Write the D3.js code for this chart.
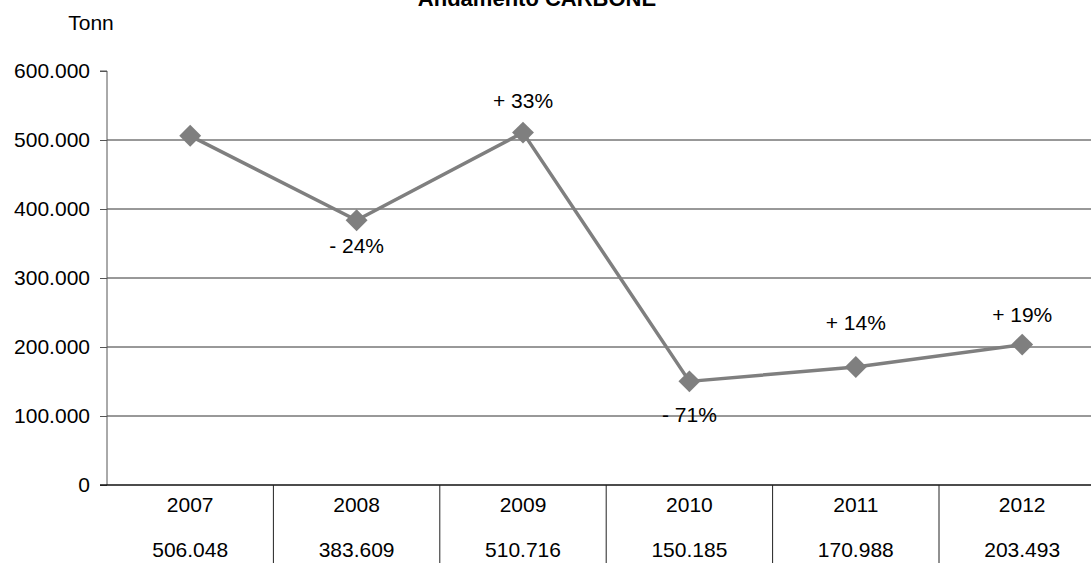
<!DOCTYPE html>
<html>
<head>
<meta charset="utf-8">
<script src="https://cdn.jsdelivr.net/npm/d3@7/dist/d3.min.js"></script>
<style>
  html, body { margin: 0; padding: 0; background: #fff; overflow: hidden; }
  svg { display: block; font-family: "Liberation Sans", Arial, Helvetica, sans-serif; }
</style>
</head>
<body>
<svg id="chart" width="1091" height="563"></svg>
<script>
// Annual coal tonnage
const years = ["2007", "2008", "2009", "2010", "2011", "2012"];
const tonnes = [506048, 383609, 510716, 150185, 170988, 203493];
const changeLabels = ["", "- 24%", "+ 33%", "- 71%", "+ 14%", "+ 19%"];
const yTicks = [0, 100000, 200000, 300000, 400000, 500000, 600000];

// Vertical placement of each change label relative to its point (px)
const labelDy = [0, 25, -32, 33, -44, -30];

(function () {
  const svg = d3.select("#chart");
  const W = 1091, H = 563;
  const plotLeft = 107, plotTop = 71, plotBottom = 485;
  const colW = 166.4;
  const fs = 21;

  const x = d3.scaleBand().domain(years).range([plotLeft, plotLeft + colW * years.length]).padding(0);
  const y = d3.scaleLinear().domain([0, 600000]).range([plotBottom, plotTop]);

  const fmt = v => d3.format(",")(v).replace(/,/g, ".");

  // Title (runs off the top edge)
  svg.append("text")
    .attr("x", 537).attr("y", 6)
    .attr("text-anchor", "middle")
    .attr("font-weight", "bold")
    .attr("font-size", 22)
    .text("Andamento CARBONE");

  // Unit label
  svg.append("text")
    .attr("x", 91).attr("y", 30)
    .attr("text-anchor", "middle")
    .attr("font-size", fs)
    .text("Tonn");

  // Horizontal gridlines
  svg.append("g").selectAll("line")
    .data(yTicks.filter(d => d > 0 && d < 600000))
    .join("line")
    .attr("x1", plotLeft).attr("x2", W)
    .attr("y1", d => y(d)).attr("y2", d => y(d))
    .attr("stroke", "#333").attr("stroke-width", 1);

  // Y axis
  const yAxis = d3.axisLeft(y).tickValues(yTicks).tickSize(7).tickPadding(10).tickFormat(fmt);
  const gy = svg.append("g").attr("transform", `translate(${plotLeft},0)`).call(yAxis);
  gy.select(".domain").attr("stroke", "#555").attr("d", `M-7,${y(600000)}H0V${plotBottom}`);
  gy.selectAll(".tick line").attr("stroke", "#555");
  gy.selectAll(".tick text").attr("font-size", fs).attr("fill", "#000")
    .attr("font-family", "\"Liberation Sans\", Arial, sans-serif");

  // Baseline
  svg.append("line")
    .attr("x1", plotLeft - 7).attr("x2", W)
    .attr("y1", plotBottom).attr("y2", plotBottom)
    .attr("stroke", "#111").attr("stroke-width", 1.3);

  // Data table dividers below the axis
  svg.append("g").selectAll("line")
    .data(years.slice(1))
    .join("line")
    .attr("x1", d => x(d)).attr("x2", d => x(d))
    .attr("y1", plotBottom).attr("y2", H)
    .attr("stroke", "#222").attr("stroke-width", 1);

  // Year row
  svg.append("g").selectAll("text")
    .data(years)
    .join("text")
    .attr("x", d => x(d) + x.bandwidth() / 2)
    .attr("y", 512)
    .attr("text-anchor", "middle")
    .attr("font-size", fs)
    .text(d => d);

  // Value row
  svg.append("g").selectAll("text")
    .data(tonnes)
    .join("text")
    .attr("x", (d, i) => x(years[i]) + x.bandwidth() / 2)
    .attr("y", 557)
    .attr("text-anchor", "middle")
    .attr("font-size", fs)
    .text(d => fmt(d));

  // Series line
  const cx = i => x(years[i]) + x.bandwidth() / 2;
  const line = d3.line().x((d, i) => cx(i)).y(d => y(d));
  svg.append("path")
    .datum(tonnes)
    .attr("d", line)
    .attr("fill", "none")
    .attr("stroke", "#7f7f7f")
    .attr("stroke-width", 3.5)
    .attr("stroke-linejoin", "round");

  // Diamond markers
  svg.append("g").selectAll("path")
    .data(tonnes)
    .join("path")
    .attr("transform", (d, i) => `translate(${cx(i)},${y(d)}) rotate(45)`)
    .attr("d", d3.symbol().type(d3.symbolSquare).size(240))
    .attr("fill", "#7f7f7f");

  // Change labels
  svg.append("g").selectAll("text")
    .data(tonnes)
    .join("text")
    .attr("x", (d, i) => cx(i))
    .attr("y", (d, i) => y(d) + labelDy[i])
    .attr("dy", "0.35em")
    .attr("text-anchor", "middle")
    .attr("font-size", fs)
    .text((d, i) => changeLabels[i]);
})();
</script>
</body>
</html>
